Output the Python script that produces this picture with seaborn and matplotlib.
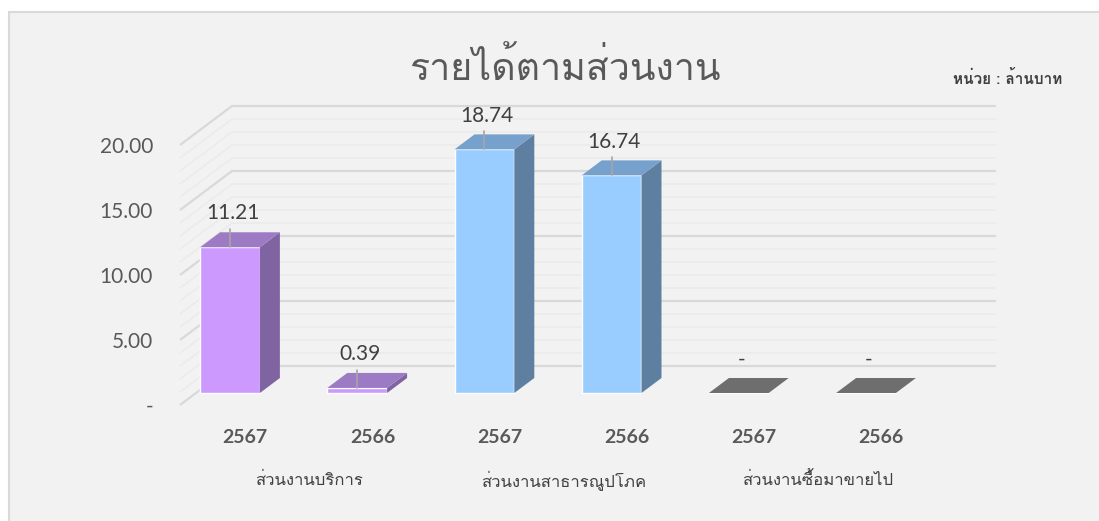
import matplotlib
matplotlib.use("Agg")
import matplotlib.pyplot as plt
from matplotlib import font_manager, ft2font
from matplotlib.patches import Polygon, Rectangle
import numpy as np
import pandas as pd
import seaborn as sns

# data
segments = ["ส่วนงานบริการ", "ส่วนงานสาธารณูปโภค", "ส่วนงานซื้อมาขายไป"]
years = ["2567", "2566"]
values = [11.21, 0.39, 18.74, 16.74, 0.0, 0.0]
ytick_values = [0, 5, 10, 15, 20]
title = "รายได้ตามส่วนงาน"
unit_text = "หน่วย : ล้านบาท"

# find a font with thai glyphs
thai_font = None
for f in font_manager.fontManager.ttflist:
    try:
        if 0x0E01 in ft2font.FT2Font(f.fname).get_charmap():
            thai_font = f.name
            break
    except Exception:
        pass

sns.set_style("white")
fams = ([thai_font] if thai_font else []) + ["Lato", "DejaVu Sans"]
plt.rcParams["font.family"] = fams
num_font = ["Lato", "DejaVu Sans"]

front_cols = ["#CC99FF", "#99CCFF", "#6E6E6E"]
side_cols = ["#8064A2", "#5F7FA0", "#6E6E6E"]
top_cols = ["#9C7AC4", "#76A1CD", "#6E6E6E"]

rows = []
for si, seg in enumerate(segments):
    for yi, yr in enumerate(years):
        rows.append({"bar": f"{seg} {yr}", "segment": seg, "year": yr,
                     "value": values[si * 2 + yi]})
df = pd.DataFrame(rows)

# pixel geometry of the fake 3d box
W, H = 1099, 521
X0, PXC = 230, 127.2      # px of category 0, px per category
Y0, PXU = 393, 13.0       # px of value 0, px per unit
def xd(px): return (px - X0) / PXC
def yd(px): return (Y0 - px) / PXU

fig = plt.figure(figsize=(W / 100, H / 100), dpi=100)
fig.patch.set_facecolor("white")
fig.patches.append(Rectangle((9 / W, -0.1), 1.2, 1.1 - 12 / H, transform=fig.transFigure,
                             facecolor="#F2F2F2", edgecolor="#D9D9D9", lw=1.5, zorder=-10))

ax_l, ax_r, ax_t, ax_b = 180, 996, 100, 415
ax = fig.add_axes([ax_l / W, (H - ax_b) / H, (ax_r - ax_l) / W, (ax_b - ax_t) / H])
ax.patch.set_alpha(0)

sns.barplot(data=df, x="bar", y="value", hue="segment", palette=front_cols,
            width=0.47, dodge=False, legend=False, saturation=1, ax=ax, zorder=3)

floor_l, floor_y = xd(180), yd(405)
wall_x, wall_y = xd(232), yd(366)
wall_r = xd(996)
for v in np.arange(0, 21, 1):
    major = v % 5 == 0
    c = "#D9D9D9" if major else "#EAEAEA"
    lw = 1.6 if major else 1.0
    ax.plot([floor_l, wall_x, wall_r], [v + floor_y, v + wall_y, v + wall_y],
            color=c, lw=lw, zorder=1, clip_on=False, solid_capstyle="butt")

# side and top faces for each bar
dxb, dyb = 20 / PXC, 15 / PXU
for i, p in enumerate(ax.patches):
    si = i // 2
    x0, w, h = p.get_x(), p.get_width(), p.get_height()
    x1 = x0 + w
    if h > 0:
        ax.add_patch(Polygon([(x1, 0), (x1 + dxb, dyb), (x1 + dxb, h + dyb), (x1, h)],
                             closed=True, facecolor=side_cols[si], edgecolor="none", zorder=3))
    ax.add_patch(Polygon([(x0, h), (x1, h), (x1 + dxb, h + dyb), (x0 + dxb, h + dyb)],
                         closed=True, facecolor=top_cols[si], edgecolor="none", zorder=3))
    xc = x0 + w / 2
    lab = f"{h:.2f}" if h > 0 else "-"
    ax.text(xc + 0.02, h + 2.6, lab, ha="center", va="center", fontsize=15,
            color="#404040", family=num_font, zorder=5)
    if h > 0:
        ax.plot([xc, xc], [h, h + 1.4], color="#A6A6A6", lw=1.2, zorder=4)

ax.set_xlim(xd(ax_l), xd(ax_r))
ax.set_ylim(yd(ax_b), yd(ax_t))

ax.set_yticks([v + floor_y for v in ytick_values])
ax.set_yticklabels([f"{v:.2f}" if v else "-" for v in ytick_values],
                   fontsize=15, color="#595959", family=num_font)
ax.tick_params(axis="y", length=0, pad=19.5)

ax.set_xticks(np.arange(len(values)) + 0.12)
ax.set_xticklabels(df["year"], fontsize=14, fontweight="bold", color="#595959",
                   family=num_font)
ax.tick_params(axis="x", length=0, pad=10)
ax.set_xlabel("")
ax.set_ylabel("")
sns.despine(ax=ax, left=True, bottom=True)

for si, seg in enumerate(segments):
    ax.text(si * 2 + 0.5 + 0.12, yd(481), seg, ha="center", va="center",
            fontsize=12, color="#404040", clip_on=False)

fig.text(565 / W, 1 - 68 / H, title, ha="center", va="center", fontsize=27, color="#595959")
fig.text(1062 / W, 1 - 79 / H, unit_text, ha="right", va="center", fontsize=11,
         fontweight="bold", color="#404040")

fig.savefig("out.png", dpi=100, facecolor=fig.get_facecolor())
